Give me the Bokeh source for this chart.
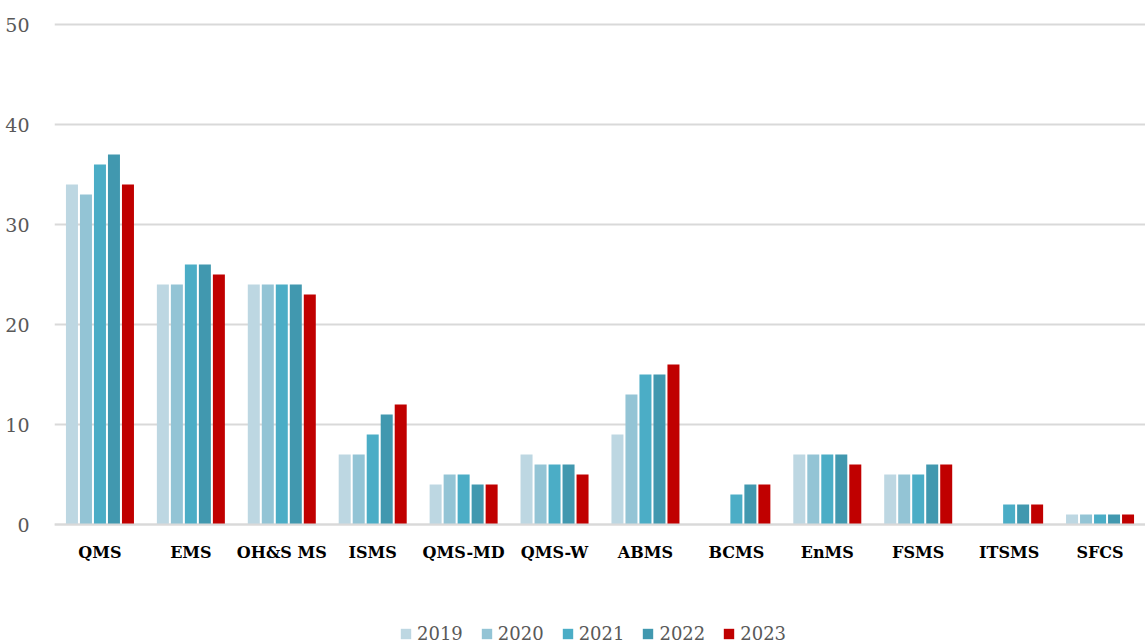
from bokeh.plotting import figure
from bokeh.models import ColumnDataSource, FactorRange, Range1d, Legend, LegendItem, FixedTicker
from bokeh.transform import dodge
from bokeh.embed import file_html
from bokeh.resources import INLINE

categories = ["QMS", "EMS", "OH&S MS", "ISMS", "QMS-MD", "QMS-W", "ABMS", "BCMS", "EnMS", "FSMS", "ITSMS", "SFCS"]
years = ["2019", "2020", "2021", "2022", "2023"]
v2019 = [34, 24, 24, 7, 4, 7, 9, 0, 7, 5, 0, 1]
v2020 = [33, 24, 24, 7, 5, 6, 13, 0, 7, 5, 0, 1]
v2021 = [36, 26, 24, 9, 5, 6, 15, 3, 7, 5, 2, 1]
v2022 = [37, 26, 24, 11, 4, 6, 15, 4, 7, 6, 2, 1]
v2023 = [34, 25, 23, 12, 4, 5, 16, 4, 6, 6, 2, 1]
y_ticks = [0, 10, 20, 30, 40, 50]
colors = ["#BDD7E2", "#93C4D5", "#4BADC6", "#4198AF", "#C00000"]

series = [v2019, v2020, v2021, v2022, v2023]
src = ColumnDataSource(dict(cat=categories, **{y: s for y, s in zip(years, series)}))

FONT = "DejaVu Serif"

p = figure(x_range=FactorRange(*categories, range_padding=0), y_range=Range1d(-12.0, 50.3),
           frame_width=1091, frame_height=623, output_backend="svg", toolbar_location=None,
           min_border_left=54, min_border_right=0, min_border_top=21, min_border_bottom=0)
p.outline_line_color = None
p.background_fill_color = "white"

offsets = [-0.308, -0.154, 0.0, 0.154, 0.308]
items = []
for y, c, off in zip(years, colors, offsets):
    r = p.vbar(x=dodge("cat", off, range=p.x_range), top=y, bottom=0, width=0.132, source=src,
               fill_color=c, line_color=None)
    items.append(LegendItem(label=y, renderers=[r]))

p.yaxis.ticker = FixedTicker(ticks=y_ticks)
p.yaxis.axis_line_color = None
p.yaxis.major_tick_line_color = None
p.yaxis.minor_tick_line_color = None
p.yaxis.major_label_text_font = FONT
p.yaxis.major_label_text_font_size = "19px"
p.yaxis.major_label_text_color = "#595959"
p.yaxis.major_label_standoff = 19

p.xaxis.fixed_location = 0
p.xaxis.axis_line_color = "#D9D9D9"
p.xaxis.axis_line_width = 2
p.xaxis.major_tick_line_color = None
p.xaxis.minor_tick_line_color = None
p.xaxis.major_label_text_font = FONT
p.xaxis.major_label_text_font_size = "16px"
p.xaxis.major_label_text_font_style = "bold"
p.xaxis.major_label_text_color = "black"
p.xaxis.major_label_standoff = 12

p.xgrid.grid_line_color = None
p.ygrid.grid_line_color = "#D9D9D9"
p.ygrid.grid_line_width = 2

legend = Legend(items=items, orientation="horizontal", location=(345, 0),
                label_text_font=FONT, label_text_font_size="18px", label_text_color="#595959",
                glyph_width=13, glyph_height=13, spacing=17, label_standoff=5,
                border_line_color=None, background_fill_alpha=0, padding=0, margin=0)
legend.label_height = 14
p.add_layout(legend, "center")

open("out.html", "w").write(file_html(p, INLINE))
